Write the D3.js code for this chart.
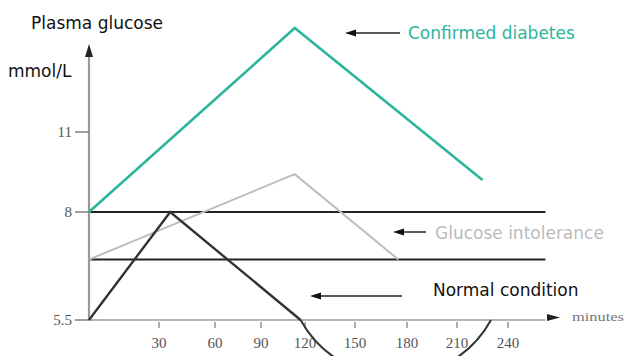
<!DOCTYPE html>
<html><head><meta charset="utf-8">
<script src="https://cdn.jsdelivr.net/npm/d3@7"></script>
<style>body{margin:0;background:#fff}svg{display:block}</style>
</head><body>
<svg id="c" width="627" height="356"></svg>
<script>
const xTickValues = [30, 60, 90, 120, 150, 180, 210, 240];
const yTickValues = [5.5, 8, 11];
const yTickLabels = ["5.5", "8", "11"];
const diabetes = [[0, 8], [113, 14.9], [225, 9.2]];
const intolerance = [[0, 6.9], [113, 9.42], [175, 6.9]];
const normal = [[0, 5.5], [36, 8], [117, 5.5]];
const thresholds = [8, 6.9];
const arcEnds = [117, 230];
const labels = [
  {text: "Confirmed diabetes", series: "diabetes"},
  {text: "Glucose intolerance", series: "intolerance"},
  {text: "Normal condition", series: "normal"}
];

const svg = d3.select("#c");
const x = d3.scaleLinear()
  .domain([0, 30, 60, 90, 120, 150, 180, 210, 240])
  .range([89, 159, 215, 261, 305, 355, 407, 457, 508]);
const y = d3.scaleLinear().domain([5.5, 8, 11]).range([320, 212, 132]);
const xEnd = 262, yTop = 14.3;

function leftArrow(x0, x1, yy){
  svg.append("line").attr("x1", x0).attr("x2", x1 + 8).attr("y1", yy).attr("y2", yy)
    .attr("stroke", "#222").attr("stroke-width", 1.5);
  svg.append("path").attr("d", `M${x1},${yy} L${x1 + 11},${yy - 3.5} L${x1 + 11},${yy + 3.5} Z`).attr("fill", "#111");
}

// threshold lines
svg.selectAll(".thr").data(thresholds).join("line")
  .attr("x1", x(0)).attr("x2", x(xEnd)).attr("y1", d => y(d)).attr("y2", d => y(d))
  .attr("stroke", "#222").attr("stroke-width", 2);

// x axis
svg.append("line").attr("x1", x(0)).attr("x2", x(xEnd)).attr("y1", y(5.5)).attr("y2", y(5.5))
  .attr("stroke", "#b5b5b5").attr("stroke-width", 2);
svg.append("path").attr("d", `M547,${y(5.5) - 6} L560,${y(5.5) - 2.5} L547,${y(5.5) + 1} Z`).attr("fill", "#222");
svg.append("text").attr("x", 572).attr("y", y(5.5) + 1).text("minutes")
  .attr("font-family", "Liberation Serif").attr("font-size", 13).attr("fill", "#777")
  .attr("textLength", 52).attr("lengthAdjust", "spacingAndGlyphs");
const xg = svg.selectAll(".xt").data(xTickValues).join("g");
xg.append("line").attr("x1", d => x(d)).attr("x2", d => x(d)).attr("y1", y(5.5) + 2).attr("y2", y(5.5) + 8)
  .attr("stroke", "#777").attr("stroke-width", 1.2);
xg.append("text").attr("x", d => x(d)).attr("y", y(5.5) + 28).attr("text-anchor", "middle")
  .text(d => d).attr("font-family", "Liberation Serif").attr("font-size", 15).attr("fill", "#555");

// y axis
svg.append("line").attr("x1", x(0)).attr("x2", x(0)).attr("y1", y(5.5)).attr("y2", y(yTop) + 10)
  .attr("stroke", "#999").attr("stroke-width", 2.2);
svg.append("path").attr("d", `M${x(0)},${y(yTop)} L${x(0)-4},${y(yTop)+13} L${x(0)+4},${y(yTop)+13} Z`).attr("fill", "#222");
const yg = svg.selectAll(".yt").data(yTickValues).join("g");
yg.append("line").attr("x1", x(0) - 14).attr("x2", x(0)).attr("y1", d => y(d)).attr("y2", d => y(d))
  .attr("stroke", "#777").attr("stroke-width", 1.4);
yg.append("text").attr("x", x(0) - 17).attr("y", d => y(d) + 5).attr("text-anchor", "end")
  .text((d, i) => yTickLabels[i]).attr("font-family", "Liberation Serif").attr("font-size", 15).attr("fill", "#555");

// series
const line = d3.line().x(d => x(d[0])).y(d => y(d[1]));
svg.append("path").datum(intolerance).attr("d", line).attr("fill", "none").attr("stroke", "#bdbdbd").attr("stroke-width", 2);
svg.append("path").datum(normal).attr("d", line).attr("fill", "none").attr("stroke", "#333").attr("stroke-width", 2.4);
svg.append("path").datum(diabetes).attr("d", line).attr("fill", "none").attr("stroke", "#2bb59b").attr("stroke-width", 2.6);

// decorative arc under x axis
const ax0 = x(arcEnds[0]), ax1 = x(arcEnds[1]), ay = y(5.5);
const r = (ax1 - ax0) * 0.57;
svg.append("path").attr("d", `M${ax0},${ay} A${r},${r} 0 0 0 ${ax1},${ay}`)
  .attr("fill", "none").attr("stroke", "#333").attr("stroke-width", 2);

// titles
const font = "DejaVu Sans";
svg.append("text").attr("x", 31).attr("y", 29).text("Plasma glucose")
  .attr("font-family", font).attr("font-size", 17).attr("fill", "#111");
svg.append("text").attr("x", 8).attr("y", 77).text("mmol/L")
  .attr("font-family", font).attr("font-size", 17).attr("fill", "#111");

// labels with arrows
const labelPos = {
  diabetes: {tx: 408, ty: 39, color: "#2bb59b", a0: 400, a1: 345, ay: 33},
  intolerance: {tx: 435, ty: 239, color: "#bbbbbb", a0: 426, a1: 393, ay: 232},
  normal: {tx: 433, ty: 296, color: "#111", a0: 402, a1: 310, ay: 296}
};
labels.forEach(l => {
  const p = labelPos[l.series];
  leftArrow(p.a0, p.a1, p.ay);
  svg.append("text").attr("x", p.tx).attr("y", p.ty).text(l.text)
    .attr("font-family", font).attr("font-size", 17).attr("fill", p.color);
});
</script>
</body></html>
